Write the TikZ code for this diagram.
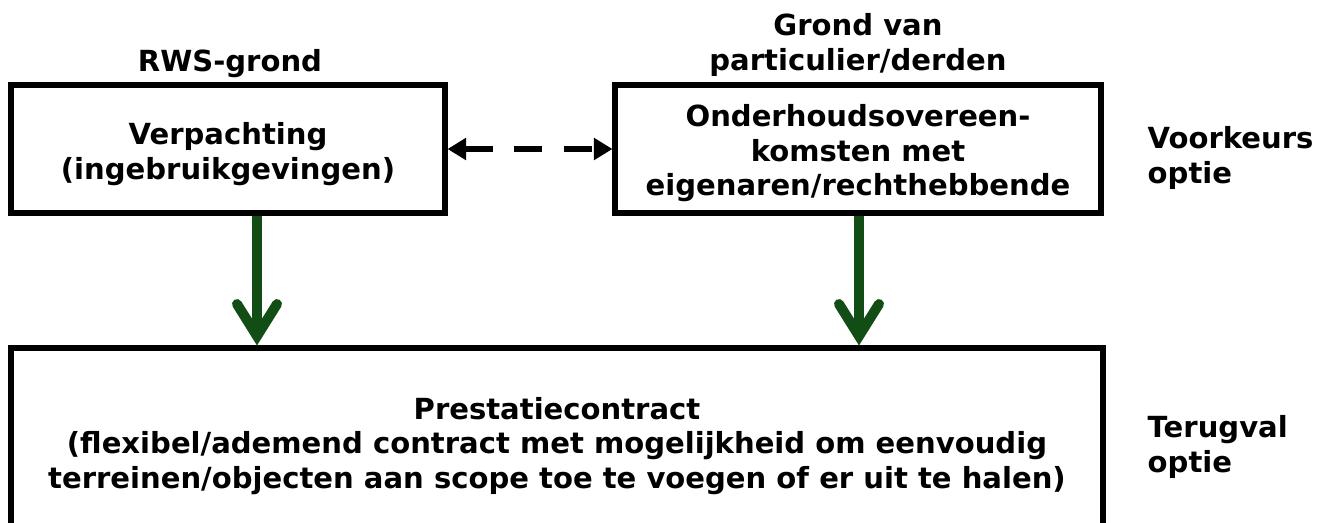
\documentclass[tikz,border=0pt]{standalone}
\usepackage{fontspec}
\setmainfont{DejaVu Sans}
\usetikzlibrary{arrows.meta,positioning}
\definecolor{arrowgreen}{RGB}{17,77,20}
\newcommand\lift[1]{\rule{0pt}{#1}}

\begin{document}
\begin{tikzpicture}[
    x=0.75pt, y=-0.75pt,
    every node/.style={font=\bfseries\fontsize{21.8}{26}\selectfont, align=center},
    box/.style={draw, line width=3.8pt, inner sep=0pt},
    greenarrow/.style={draw=arrowgreen, line width=7.5pt,
        -{Straight Barb[length=24pt, width=30pt, line cap=round]}},
    dasharrow/.style={draw, line width=5pt, dash pattern=on 21pt off 16pt,
        {Triangle[length=14pt, width=16pt]}-{Triangle[length=14pt, width=16pt]}}
    ]
    \useasboundingbox (0,0) rectangle (1330,522);
    % boxes
    \node[box, minimum width=434*0.75pt, minimum height=128*0.75pt] (verp) at (228,149)
        {\lift{24pt}Verpachting\\(ingebruikgevingen)};
    \node[box, minimum width=486*0.75pt, minimum height=128*0.75pt] (onderh) at (858,149)
        {\lift{23pt}Onderhoudsovereen-\\komsten met\\eigenaren/rechthebbende};
    \node[box, minimum width=1092*0.75pt, minimum height=196*0.75pt] (prest) at (557,446)
        {Prestatiecontract\\(flexibel/ademend contract met mogelijkheid om eenvoudig\\terreinen/objecten aan scope toe te voegen of er uit te halen)};
    % labels
    \node (rws) at (230,64) {RWS-grond};
    \node (grond) at (858,45) {Grond van\\particulier/derden};
    \node[align=left, anchor=west] (voork) at (1143,158) {Voorkeurs\\optie};
    \node[align=left, anchor=west] (terug) at (1143,447) {Terugval\\optie};
    % arrows
    \coordinate (xa) at (257,0);
    \coordinate (xb) at (859,0);
    \draw[greenarrow] (verp.south -| xa) -- (prest.north -| xa);
    \draw[greenarrow] (onderh.south -| xb) -- (prest.north -| xb);
    \draw[dasharrow] (verp.east) -- (onderh.west);
\end{tikzpicture}
\end{document}
